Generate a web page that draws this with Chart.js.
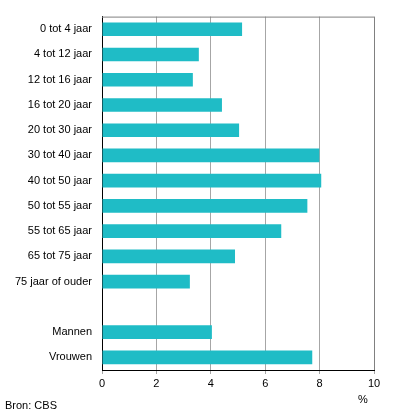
<!DOCTYPE html>
<html>
<head>
<meta charset="utf-8">
<script src="https://cdn.jsdelivr.net/npm/chart.js@4/dist/chart.umd.min.js"></script>
<style>
html,body{margin:0;padding:0;background:#fff;}
#wrap{position:relative;width:396px;height:417px;}
</style>
</head>
<body>
<div id="wrap"><canvas id="c" width="396" height="417"></canvas></div>
<script>
const categories = ["0 tot 4 jaar","4 tot 12 jaar","12 tot 16 jaar","16 tot 20 jaar","20 tot 30 jaar","30 tot 40 jaar","40 tot 50 jaar","50 tot 55 jaar","55 tot 65 jaar","65 tot 75 jaar","75 jaar of ouder","","Mannen","Vrouwen"];
const values = [5.15,3.56,3.34,4.41,5.04,7.99,8.06,7.55,6.59,4.89,3.23,null,4.04,7.73];
const xTicks = [0,2,4,6,8,10];
const unitLabel = "%";
const sourceLabel = "Bron: CBS";

const FONT = "'Liberation Sans', Arial, sans-serif";

const extras = {
  id: 'extras',
  afterDraw(chart) {
    const ctx = chart.ctx, a = chart.chartArea;
    ctx.save();
    ctx.strokeStyle = '#808080';
    ctx.lineWidth = 1;
    ctx.beginPath();
    ctx.moveTo(a.left, a.top + 0.5);
    ctx.lineTo(a.right + 0.5, a.top + 0.5);
    ctx.lineTo(a.right + 0.5, a.bottom);
    ctx.stroke();
    ctx.fillStyle = '#000';
    ctx.font = '11px ' + FONT;
    ctx.textBaseline = 'middle';
    ctx.textAlign = 'center';
    ctx.fillText(unitLabel, a.right - 11, 400);
    ctx.textAlign = 'left';
    ctx.fillText(sourceLabel, 5, 406);
    ctx.restore();
  }
};

new Chart(document.getElementById('c'), {
  type: 'bar',
  data: {
    labels: categories,
    datasets: [{
      data: values,
      backgroundColor: '#1fbcc6',
      borderWidth: 0,
      barPercentage: 0.54,
      categoryPercentage: 1.0
    }]
  },
  options: {
    indexAxis: 'y',
    responsive: false,
    animation: false,
    layout: { padding: { top: 15, right: 22, left: 0, bottom: 0 } },
    plugins: { legend: { display: false }, tooltip: { enabled: false } },
    scales: {
      x: {
        min: 0, max: 10,
        afterBuildTicks(scale) { scale.ticks = xTicks.map(v => ({ value: v })); },
        afterFit(scale) { scale.height = 47; },
        grid: { color: '#a6a6a6', tickColor: '#a6a6a6', tickLength: 4, lineWidth: 1 },
        border: { color: '#000', width: 1 },
        ticks: { color: '#000', font: { family: FONT, size: 11 }, padding: 3, maxRotation: 0 }
      },
      y: {
        afterFit(scale) { scale.width = 102; },
        grid: { display: true, drawOnChartArea: false, drawTicks: false },
        border: { color: '#000', width: 1 },
        ticks: { color: '#000', font: { family: FONT, size: 11 }, padding: 10, autoSkip: false }
      }
    }
  },
  plugins: [extras]
});
</script>
</body>
</html>
